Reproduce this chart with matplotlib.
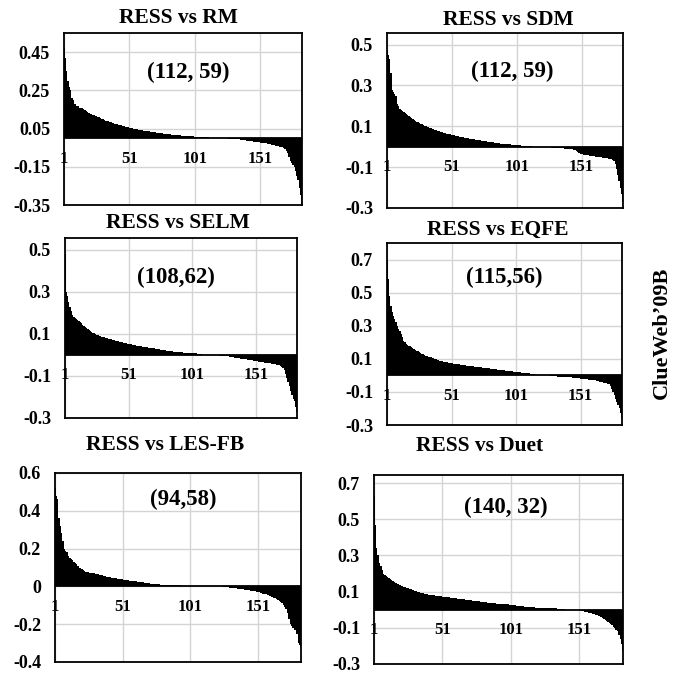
import numpy as np
import matplotlib
matplotlib.use("Agg")
import matplotlib.pyplot as plt

plt.rcParams['font.family'] = ['Liberation Serif', 'DejaVu Serif']
plt.rcParams['font.weight'] = 'bold'

# per-query differences (RESS minus baseline), sorted, 183 queries
rm_diff = [
    0.47, 0.42, 0.35, 0.30, 0.27, 0.25, 0.21, 0.20, 0.18, 0.18,
    0.17, 0.17, 0.16, 0.16, 0.155, 0.15, 0.145, 0.14, 0.135, 0.13,
    0.128, 0.125, 0.122, 0.12, 0.118, 0.115, 0.112, 0.11, 0.105, 0.10,
    0.098, 0.095, 0.092, 0.09, 0.088, 0.085, 0.083, 0.08, 0.078, 0.076,
    0.074, 0.072, 0.07, 0.068, 0.066, 0.064, 0.062, 0.06, 0.058, 0.056,
    0.055, 0.053, 0.052, 0.05, 0.049, 0.047, 0.046, 0.045, 0.043, 0.042,
    0.04, 0.039, 0.038, 0.037, 0.036, 0.035, 0.034, 0.033, 0.032, 0.031,
    0.03, 0.029, 0.028, 0.027, 0.026, 0.025, 0.024, 0.023, 0.022, 0.021,
    0.02, 0.019, 0.018, 0.017, 0.016, 0.016, 0.015, 0.015, 0.014, 0.014,
    0.013, 0.013, 0.012, 0.012, 0.011, 0.011, 0.01, 0.01, 0.009, 0.009,
    0.008, 0.008, 0.008, 0.007, 0.007, 0.006, 0.006, 0.005, 0.005, 0.004, 0.004, 0.003,
    0, 0, 0, 0, 0, 0, 0, 0, 0, 0, 0, 0,
    -0.002, -0.002, -0.003, -0.003, -0.004, -0.004, -0.005, -0.005, -0.006, -0.006,
    -0.007, -0.008, -0.009, -0.01, -0.011, -0.012, -0.013, -0.014, -0.015, -0.016,
    -0.017, -0.018, -0.019, -0.02, -0.021, -0.022, -0.023, -0.024, -0.025, -0.026,
    -0.027, -0.028, -0.03, -0.031, -0.033, -0.034, -0.036, -0.037, -0.039, -0.04,
    -0.042, -0.044, -0.046, -0.048, -0.05, -0.055, -0.065, -0.08, -0.1, -0.12,
    -0.13, -0.14, -0.15, -0.17, -0.2, -0.22, -0.26, -0.3, -0.345,
]

sdm_diff = [
    0.47, 0.45, 0.43, 0.36, 0.28, 0.27, 0.26, 0.25, 0.21, 0.20,
    0.185, 0.18, 0.175, 0.17, 0.165, 0.16, 0.155, 0.15, 0.145, 0.14,
    0.135, 0.13, 0.127, 0.123, 0.12, 0.116, 0.112, 0.11, 0.107, 0.104,
    0.101, 0.098, 0.095, 0.092, 0.09, 0.087, 0.085, 0.082, 0.08, 0.078,
    0.076, 0.074, 0.072, 0.07, 0.068, 0.066, 0.064, 0.063, 0.061, 0.06,
    0.058, 0.057, 0.056, 0.054, 0.053, 0.052, 0.05, 0.049, 0.048, 0.047,
    0.045, 0.044, 0.043, 0.042, 0.04, 0.039, 0.038, 0.036, 0.035, 0.034,
    0.033, 0.032, 0.031, 0.03, 0.029, 0.028, 0.027, 0.026, 0.025, 0.024,
    0.023, 0.022, 0.021, 0.02, 0.019, 0.018, 0.017, 0.016, 0.015, 0.014,
    0.013, 0.013, 0.012, 0.012, 0.011, 0.011, 0.01, 0.01, 0.009, 0.009,
    0.008, 0.008, 0.007, 0.007, 0.006, 0.006, 0.005, 0.005, 0.004, 0.004, 0.003, 0.003,
    0, 0, 0, 0, 0, 0, 0, 0, 0, 0, 0, 0,
    -0.002, -0.003, -0.003, -0.004, -0.004, -0.005, -0.005, -0.006, -0.006, -0.007,
    -0.007, -0.008, -0.008, -0.009, -0.009, -0.01, -0.01, -0.011, -0.012, -0.013,
    -0.014, -0.016, -0.02, -0.025, -0.03, -0.034, -0.036, -0.038, -0.039, -0.04,
    -0.041, -0.042, -0.043, -0.044, -0.045, -0.046, -0.047, -0.048, -0.049, -0.05,
    -0.051, -0.052, -0.053, -0.054, -0.055, -0.056, -0.057, -0.058, -0.06, -0.062,
    -0.065, -0.07, -0.085, -0.11, -0.14, -0.17, -0.2, -0.23, -0.27,
]

selm_diff = [
    0.48, 0.30, 0.28, 0.25, 0.23, 0.21, 0.19, 0.18, 0.175, 0.17,
    0.165, 0.16, 0.155, 0.15, 0.145, 0.14, 0.135, 0.13, 0.125, 0.12,
    0.115, 0.11, 0.107, 0.104, 0.1, 0.097, 0.094, 0.092, 0.09, 0.088,
    0.086, 0.084, 0.082, 0.08, 0.078, 0.076, 0.075, 0.073, 0.072, 0.07,
    0.068, 0.066, 0.065, 0.063, 0.062, 0.06, 0.058, 0.057, 0.055, 0.054,
    0.052, 0.051, 0.05, 0.049, 0.048, 0.046, 0.045, 0.044, 0.043, 0.042,
    0.041, 0.04, 0.039, 0.038, 0.037, 0.036, 0.035, 0.034, 0.033, 0.032,
    0.031, 0.03, 0.029, 0.028, 0.027, 0.026, 0.025, 0.024, 0.023, 0.022,
    0.021, 0.02, 0.019, 0.018, 0.017, 0.016, 0.015, 0.015, 0.014, 0.013,
    0.013, 0.012, 0.012, 0.011, 0.011, 0.01, 0.01, 0.01, 0.009, 0.009,
    0.009, 0.008, 0.008, 0.008, 0.007, 0.007, 0.007, 0.006,
    0, 0, 0, 0, 0, 0, 0, 0, 0, 0, 0, 0, 0,
    -0.003, -0.004, -0.004, -0.005, -0.005, -0.006, -0.007, -0.007, -0.008, -0.009,
    -0.01, -0.011, -0.012, -0.013, -0.014, -0.015, -0.016, -0.017, -0.018, -0.019,
    -0.02, -0.021, -0.022, -0.023, -0.024, -0.025, -0.026, -0.027, -0.028, -0.029,
    -0.03, -0.031, -0.032, -0.033, -0.034, -0.035, -0.036, -0.037, -0.038, -0.039,
    -0.04, -0.041, -0.042, -0.044, -0.045, -0.047, -0.049, -0.05, -0.052, -0.055,
    -0.06, -0.07, -0.09, -0.11, -0.13, -0.15, -0.17, -0.19, -0.21, -0.22, -0.25, -0.27,
]

eqfe_diff = [
    0.69, 0.58, 0.48, 0.42, 0.38, 0.36, 0.34, 0.32, 0.3, 0.28,
    0.27, 0.25, 0.23, 0.21, 0.2, 0.19, 0.185, 0.18, 0.175, 0.17,
    0.165, 0.16, 0.155, 0.15, 0.145, 0.14, 0.136, 0.132, 0.128, 0.124,
    0.12, 0.117, 0.114, 0.111, 0.108, 0.105, 0.102, 0.099, 0.096, 0.093,
    0.09, 0.088, 0.086, 0.084, 0.082, 0.08, 0.079, 0.078, 0.077, 0.076,
    0.074, 0.072, 0.071, 0.07, 0.068, 0.067, 0.066, 0.064, 0.063, 0.062,
    0.061, 0.06, 0.059, 0.058, 0.057, 0.056, 0.055, 0.054, 0.053, 0.052,
    0.051, 0.05, 0.049, 0.048, 0.047, 0.046, 0.045, 0.044, 0.043, 0.042,
    0.041, 0.04, 0.039, 0.038, 0.037, 0.036, 0.035, 0.034, 0.033, 0.032,
    0.031, 0.03, 0.029, 0.028, 0.027, 0.026, 0.025, 0.024, 0.023, 0.022,
    0.021, 0.02, 0.019, 0.018, 0.017, 0.016, 0.015, 0.014, 0.013, 0.012,
    0.012, 0.011, 0.011, 0.01, 0.01,
    0, 0, 0, 0, 0, 0, 0, 0, 0, 0, 0, 0,
    -0.004, -0.005, -0.005, -0.006, -0.006, -0.007, -0.007, -0.008, -0.008, -0.009,
    -0.009, -0.01, -0.01, -0.011, -0.011, -0.012, -0.012, -0.013, -0.014, -0.015,
    -0.016, -0.017, -0.018, -0.019, -0.02, -0.021, -0.022, -0.023, -0.024, -0.025,
    -0.026, -0.027, -0.028, -0.029, -0.03, -0.032, -0.034, -0.036, -0.038, -0.04,
    -0.042, -0.044, -0.046, -0.048, -0.05, -0.055, -0.065, -0.08, -0.1, -0.12,
    -0.14, -0.16, -0.18, -0.2, -0.23, -0.26,
]

lesfb_diff = [
    0.52, 0.48, 0.46, 0.36, 0.32, 0.28, 0.24, 0.2, 0.185, 0.18,
    0.16, 0.15, 0.145, 0.14, 0.13, 0.125, 0.12, 0.11, 0.1, 0.095,
    0.09, 0.085, 0.08, 0.077, 0.075, 0.074, 0.073, 0.072, 0.071, 0.07,
    0.068, 0.066, 0.064, 0.062, 0.06, 0.058, 0.056, 0.054, 0.052, 0.05,
    0.049, 0.048, 0.046, 0.045, 0.044, 0.042, 0.041, 0.04, 0.039, 0.038,
    0.037, 0.035, 0.034, 0.033, 0.032, 0.031, 0.03, 0.029, 0.028, 0.027,
    0.026, 0.025, 0.024, 0.023, 0.022, 0.021, 0.02, 0.019, 0.018, 0.017,
    0.016, 0.015, 0.014, 0.013, 0.012, 0.012, 0.011, 0.011, 0.01, 0.01,
    0.01, 0.009, 0.009, 0.009, 0.008, 0.008, 0.008, 0.007, 0.007, 0.007, 0.006, 0.006, 0.005, 0.005,
    0, 0, 0, 0, 0, 0, 0, 0, 0, 0, 0, 0, 0, 0, 0, 0,
    0, 0, 0, 0, 0, 0, 0, 0, 0, 0, 0, 0, 0, 0, 0,
    -0.002, -0.003, -0.004, -0.005, -0.006, -0.007, -0.008, -0.009, -0.01, -0.011,
    -0.012, -0.013, -0.014, -0.015, -0.016, -0.017, -0.018, -0.019, -0.02, -0.021,
    -0.022, -0.023, -0.024, -0.026, -0.028, -0.03, -0.032, -0.034, -0.036, -0.038,
    -0.04, -0.042, -0.045, -0.048, -0.051, -0.054, -0.057, -0.06, -0.064, -0.068,
    -0.072, -0.077, -0.083, -0.09, -0.1, -0.11, -0.12, -0.14, -0.17, -0.2,
    -0.21, -0.22, -0.23, -0.23, -0.25, -0.3, -0.31, -0.32,
]

duet_diff = [
    0.63, 0.47, 0.34, 0.3, 0.26, 0.24, 0.22, 0.2, 0.19, 0.185,
    0.18, 0.175, 0.17, 0.165, 0.16, 0.155, 0.15, 0.145, 0.14, 0.137,
    0.134, 0.131, 0.128, 0.125, 0.122, 0.119, 0.116, 0.113, 0.11, 0.107,
    0.104, 0.101, 0.099, 0.097, 0.095, 0.093, 0.091, 0.089, 0.087, 0.085,
    0.083, 0.082, 0.081, 0.08, 0.079, 0.078, 0.077, 0.076, 0.075, 0.074,
    0.073, 0.072, 0.071, 0.07, 0.069, 0.068, 0.067, 0.066, 0.065, 0.064,
    0.063, 0.062, 0.061, 0.06, 0.059, 0.058, 0.057, 0.056, 0.055, 0.054,
    0.053, 0.052, 0.051, 0.05, 0.049, 0.048, 0.047, 0.046, 0.045, 0.044,
    0.043, 0.042, 0.041, 0.04, 0.039, 0.038, 0.037, 0.036, 0.036, 0.035,
    0.034, 0.034, 0.033, 0.032, 0.032, 0.031, 0.03, 0.03, 0.029, 0.028,
    0.027, 0.026, 0.025, 0.024, 0.023, 0.022, 0.021, 0.02, 0.019, 0.018,
    0.017, 0.016, 0.015, 0.015, 0.014, 0.014, 0.013, 0.013, 0.012, 0.012,
    0.011, 0.011, 0.01, 0.01, 0.01, 0.009, 0.009, 0.009, 0.008, 0.008,
    0.008, 0.007, 0.007, 0.007, 0.006, 0.006, 0.006, 0.005, 0.005, 0.005,
    0, 0, 0, 0, 0, 0, 0, 0, 0, 0, 0,
    -0.004, -0.006, -0.008, -0.01, -0.012, -0.014, -0.016, -0.018, -0.02, -0.022,
    -0.025, -0.028, -0.031, -0.034, -0.037, -0.04, -0.045, -0.05, -0.055, -0.06,
    -0.066, -0.072, -0.079, -0.086, -0.093, -0.1, -0.11, -0.12, -0.14, -0.16, -0.19, -0.23,
]

titles = ['RESS vs RM', 'RESS vs SDM', 'RESS vs SELM',
          'RESS vs EQFE', 'RESS vs LES-FB', 'RESS vs Duet']
win_loss = ['(112, 59)', '(112, 59)', '(108,62)', '(115,56)', '(94,58)', '(140, 32)']
yticks = [
    [-0.35, -0.15, 0.05, 0.25, 0.45],
    [-0.3, -0.1, 0.1, 0.3, 0.5],
    [-0.3, -0.1, 0.1, 0.3, 0.5],
    [-0.3, -0.1, 0.1, 0.3, 0.5, 0.7],
    [-0.4, -0.2, 0, 0.2, 0.4, 0.6],
    [-0.3, -0.1, 0.1, 0.3, 0.5, 0.7],
]
ytick_labels = [
    ['-0.35', '-0.15', '0.05', '0.25', '0.45'],
    ['-0.3', '-0.1', '0.1', '0.3', '0.5'],
    ['-0.3', '-0.1', '0.1', '0.3', '0.5'],
    ['-0.3', '-0.1', '0.1', '0.3', '0.5', '0.7'],
    ['-0.4', '-0.2', '0', '0.2', '0.4', '0.6'],
    ['-0.3', '-0.1', '0.1', '0.3', '0.5', '0.7'],
]
ylims = [(-0.35, 0.55), (-0.3, 0.557), (-0.3, 0.557),
         (-0.3, 0.8), (-0.4, 0.6), (-0.3, 0.745)]
xticks = [1, 51, 101, 151]

series = [rm_diff, sdm_diff, selm_diff, eqfe_diff, lesfb_diff, duet_diff]

W, H = 673, 675
# axes boxes in pixels: left, right, top, bottom
boxes = [(64, 302, 33, 205), (387, 623, 33, 208),
         (65, 297, 238, 418), (387, 622, 243, 425),
         (55, 301, 473, 662), (374, 623, 475, 664)]
title_pos = [(178, 18), (508, 20), (178, 223), (498, 230), (165, 445), (480, 446)]
note_pos = [(0.52, 0.77), (0.53, 0.78), (0.48, 0.78), (0.50, 0.81), (0.52, 0.86), (0.53, 0.83)]

fig = plt.figure(figsize=(W / 100, H / 100), dpi=100)

for i in range(6):
    l, r, t, b = boxes[i]
    ax = fig.add_axes([l / W, 1 - b / H, (r - l) / W, (b - t) / H])
    vals = series[i]
    q = np.arange(1, len(vals) + 1)
    ax.bar(q, vals, width=1.0, color='black', linewidth=0, zorder=2)
    ax.axhline(0, color='black', lw=1.3, zorder=3)
    ax.set_xlim(1, len(vals))
    ax.set_ylim(*ylims[i])
    ax.set_yticks(yticks[i])
    ax.set_yticklabels(ytick_labels[i], fontsize=13, fontweight='bold')
    ax.set_xticks(xticks)
    ax.set_xticklabels([])
    ax.tick_params(length=0, pad=10)
    ax.grid(True, color='#d4d4d4', lw=1.0, zorder=0)
    ax.set_axisbelow(True)
    for s in ax.spines.values():
        s.set_linewidth(1.3)
        s.set_color('black')
    # category labels sit just under the zero line
    for x in xticks:
        ax.annotate(str(x), (x, 0), xytext=(0, -9), textcoords='offset points',
                    ha='center', va='top', fontsize=12, fontweight='bold',
                    annotation_clip=False, zorder=4)
    ax.text(note_pos[i][0], note_pos[i][1], win_loss[i], transform=ax.transAxes,
            ha='center', va='center', fontsize=16.5, fontweight='bold')
    fig.text(title_pos[i][0] / W, 1 - title_pos[i][1] / H, titles[i],
             ha='center', va='center', fontsize=15.5, fontweight='bold')

fig.text(662 / W, 1 - 333 / H, 'ClueWeb\u201909B', rotation=90,
         ha='center', va='center', fontsize=16, fontweight='bold')

fig.savefig('out.png', dpi=100)
